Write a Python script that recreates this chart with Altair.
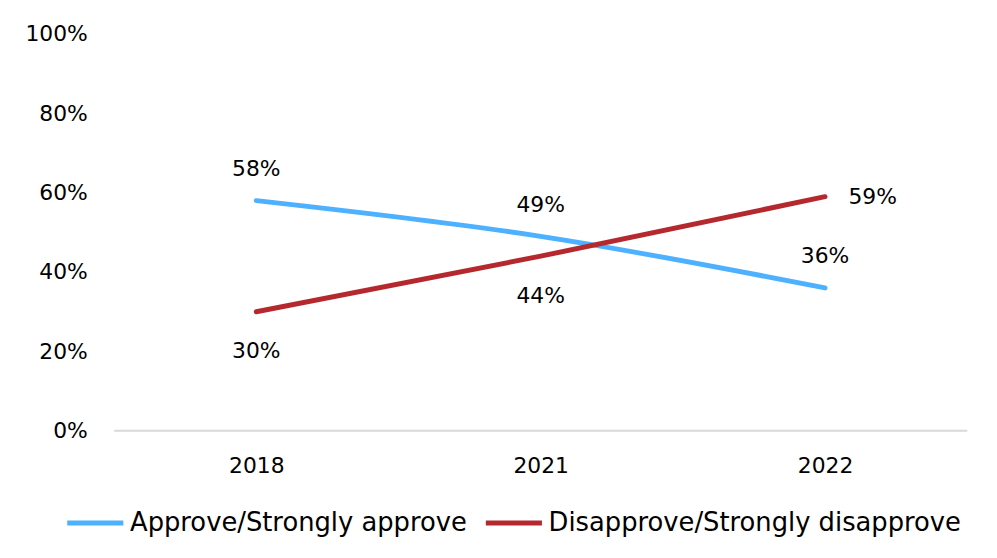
import altair as alt
import pandas as pd

years = ["2018", "2021", "2022"]
approve = [58, 49, 36]
disapprove = [30, 44, 59]
series_names = ["Approve/Strongly approve", "Disapprove/Strongly disapprove"]
colors = ["#4DB1FF", "#B5282E"]
y_ticks = [0, 20, 40, 60, 80, 100]

rows = []
for yr, a, d in zip(years, approve, disapprove):
    rows.append({"year": yr, "value": a, "series": series_names[0], "label": f"{a}%"})
    rows.append({"year": yr, "value": d, "series": series_names[1], "label": f"{d}%"})
df = pd.DataFrame(rows)

FONT = "DejaVu Sans"
NUM = 22

x = alt.X("year:O", scale=alt.Scale(type="point", padding=0.5), sort=years,
          axis=alt.Axis(title=None, labelAngle=0, domain=False, ticks=False,
                        labelPadding=25, labelFontSize=NUM, labelColor="#000000", labelFont=FONT))
y = alt.Y("value:Q", scale=alt.Scale(domain=[0, 100]),
          axis=alt.Axis(title=None, values=y_ticks, labelExpr="datum.value + '%'", domain=False,
                        ticks=False, grid=False, labelPadding=27, labelFontSize=NUM,
                        labelColor="#000000", labelFont=FONT))

base = alt.Chart(df)

baseline = alt.Chart(pd.DataFrame({"v": [0]})).mark_rule(color="#D9D9D9", strokeWidth=2).encode(
    y=alt.Y("v:Q", scale=alt.Scale(domain=[0, 100]))
)

lines = base.mark_line(strokeWidth=5, interpolate="monotone", strokeCap="round").encode(
    x=x, y=y,
    color=alt.Color("series:N", scale=alt.Scale(domain=series_names, range=colors),
                    legend=alt.Legend(title=None, orient="none", legendX=-50, legendY=462,
                                      direction="horizontal", symbolType="stroke",
                                      symbolSize=3200, symbolStrokeWidth=5,
                                      labelFontSize=26, labelFont=FONT, labelColor="#000000",
                                      columnPadding=8, labelOffset=4, labelLimit=600)),
)

txt = dict(fontSize=NUM, font=FONT, color="#000000")
lab_above = base.transform_filter(alt.datum.series == series_names[0]).mark_text(dy=-32, **txt).encode(
    x=x, y=y, text="label:N")
lab_below = base.transform_filter(
    (alt.datum.series == series_names[1]) & (alt.datum.year != "2022")
).mark_text(dy=40, **txt).encode(x=x, y=y, text="label:N")
lab_right = base.transform_filter(
    (alt.datum.series == series_names[1]) & (alt.datum.year == "2022")
).mark_text(dx=48, dy=0, **txt).encode(x=x, y=y, text="label:N")

chart = alt.layer(baseline, lines, lab_above, lab_below, lab_right).properties(
    width=860, height=400,
    autosize=alt.AutoSizeParams(type="none"),
    padding={"left": 107, "top": 24, "right": 22, "bottom": 118},
).configure_view(stroke=None)

chart.save("out.html", embed_options={"renderer": "svg", "actions": False})
